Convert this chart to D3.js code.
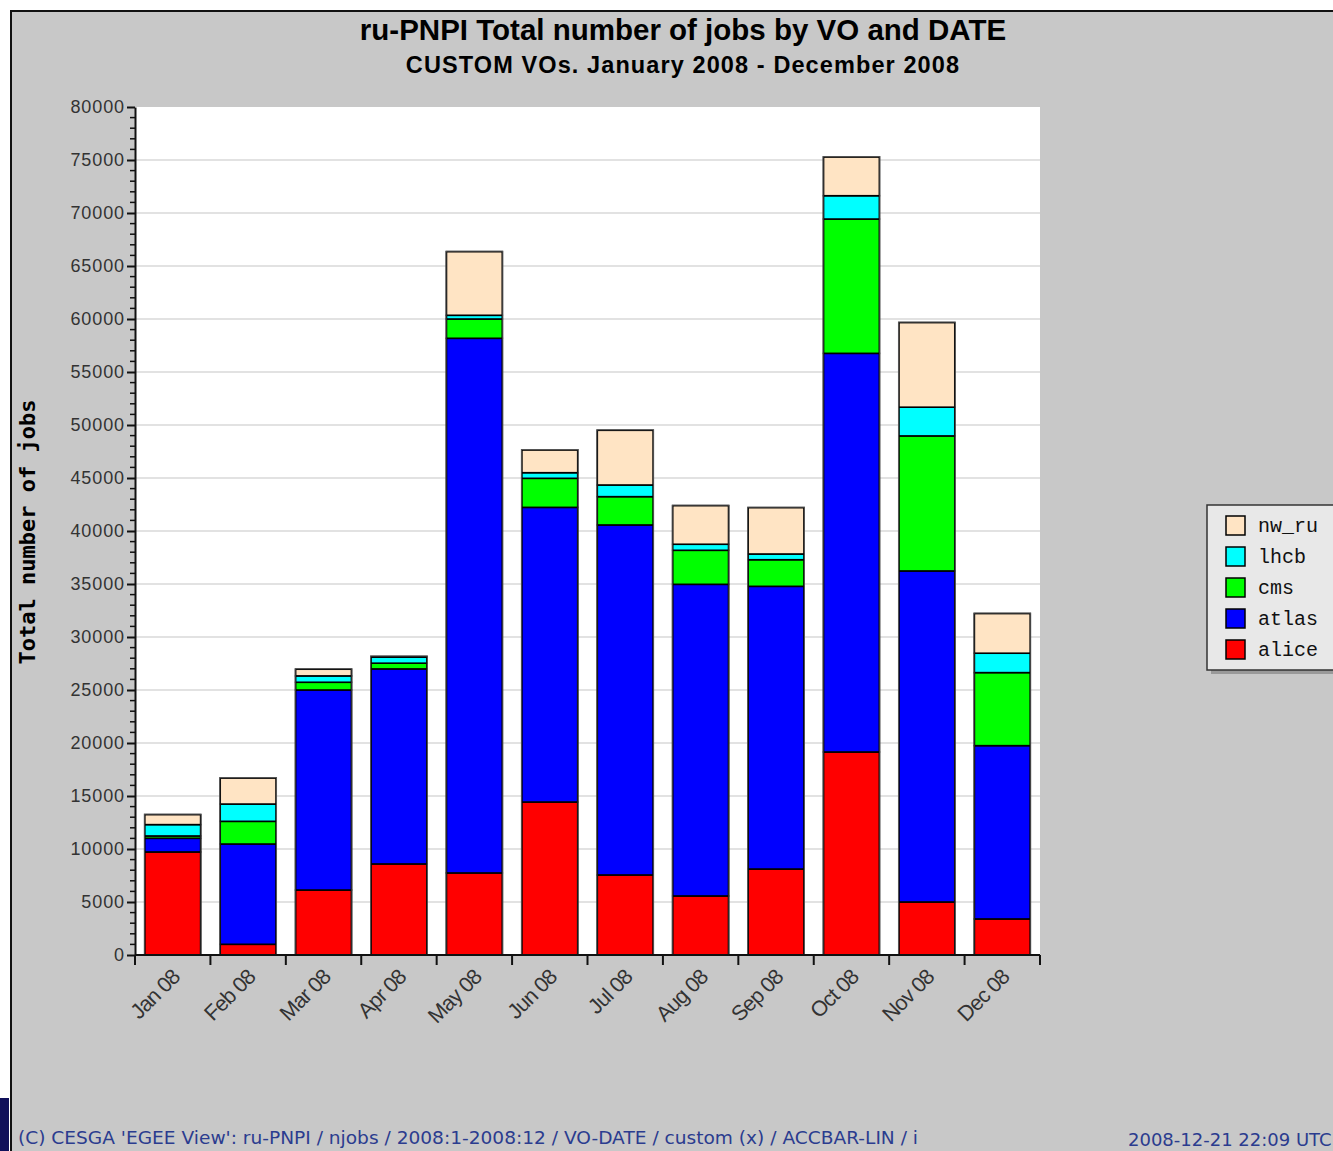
<!DOCTYPE html>
<html>
<head>
<meta charset="utf-8">
<script src="https://cdn.jsdelivr.net/npm/d3@7"></script>
<style>
  body { margin: 0; background: #fff; }
  svg { display: block; }
</style>
</head>
<body>
<script>
// months on the x axis
var months = ["Jan 08", "Feb 08", "Mar 08", "Apr 08", "May 08", "Jun 08",
              "Jul 08", "Aug 08", "Sep 08", "Oct 08", "Nov 08", "Dec 08"];

// job counts per VO
var alice = [9720, 1010, 6130, 8590, 7740, 14430, 7550, 5570, 8110, 19150, 5000, 3400];
var atlas = [1290, 9460, 18870, 18400, 50440, 27800, 33020, 29400, 26670, 37610, 31230, 16350];
var cms   = [220, 2140, 730, 540, 1820, 2740, 2670, 3210, 2510, 12670, 12740, 6890];
var lhcb  = [1070, 1630, 600, 570, 350, 530, 1100, 570, 540, 2200, 2710, 1830];
var nw_ru = [940, 2450, 630, 60, 6000, 2140, 5160, 3640, 4370, 3650, 7980, 3740];

var voNames = ["alice", "atlas", "cms", "lhcb", "nw_ru"];
var voColors = ["#ff0000", "#0000ff", "#00ff00", "#00ffff", "#ffe4c4"];
var yTicks = [0, 5000, 10000, 15000, 20000, 25000, 30000, 35000, 40000,
              45000, 50000, 55000, 60000, 65000, 70000, 75000, 80000];

var width = 1333, height = 1151;

var svg = d3.select("body").append("svg")
    .attr("width", width)
    .attr("height", height);

// grey panel with dark frame
svg.append("rect")
    .attr("x", 11).attr("y", 11)
    .attr("width", width).attr("height", height)
    .attr("fill", "#c8c8c8")
    .attr("stroke", "#111")
    .attr("stroke-width", 2);

// bit of window decoration bottom left
svg.append("rect")
    .attr("x", 0).attr("y", 1098)
    .attr("width", 9).attr("height", 53)
    .attr("fill", "#10105a");

var plot = {left: 135, right: 1040, top: 107, bottom: 955};

var x = d3.scaleBand()
    .domain(months)
    .range([plot.left, plot.right])
    .paddingInner(0.26)
    .paddingOuter(0.13);

var y = d3.scaleLinear()
    .domain([0, 80000])
    .range([plot.bottom, plot.top]);

svg.append("rect")
    .attr("x", plot.left).attr("y", plot.top)
    .attr("width", plot.right - plot.left)
    .attr("height", plot.bottom - plot.top)
    .attr("fill", "#fff");

// grid
svg.append("g")
    .selectAll("line")
    .data(yTicks.filter(function(d) { return d > 0 && d < 80000; }))
    .enter().append("line")
    .attr("x1", plot.left).attr("x2", plot.right)
    .attr("y1", function(d) { return y(d); })
    .attr("y2", function(d) { return y(d); })
    .attr("stroke", "#e2e2e2")
    .attr("stroke-width", 2);

// stacked bars
var table = months.map(function(m, i) {
    return {month: m, alice: alice[i], atlas: atlas[i], cms: cms[i], lhcb: lhcb[i], nw_ru: nw_ru[i]};
});
var series = d3.stack().keys(voNames)(table);

svg.append("g")
    .selectAll("g")
    .data(series)
    .enter().append("g")
    .attr("fill", function(d, i) { return voColors[i]; })
    .selectAll("rect")
    .data(function(d) { return d; })
    .enter().append("rect")
    .attr("x", function(d) { return x(d.data.month); })
    .attr("width", x.bandwidth())
    .attr("y", function(d) { return y(d[1]); })
    .attr("height", function(d) { return y(d[0]) - y(d[1]); })
    .attr("stroke", "#000")
    .attr("stroke-width", 1.6);

// outer outline of each bar
function total(d) { return d.alice + d.atlas + d.cms + d.lhcb + d.nw_ru; }
svg.append("g")
    .selectAll("rect")
    .data(table)
    .enter().append("rect")
    .attr("x", function(d) { return x(d.month) - 0.5; })
    .attr("width", x.bandwidth() + 1)
    .attr("y", function(d) { return y(total(d)) - 0.5; })
    .attr("height", function(d) { return plot.bottom - y(total(d)) + 0.5; })
    .attr("fill", "none")
    .attr("stroke", "#555")
    .attr("stroke-width", 1);

// y axis
var yAxis = svg.append("g")
    .attr("transform", "translate(" + plot.left + ",0)")
    .call(d3.axisLeft(y).tickValues(yTicks).tickSize(8).tickSizeOuter(0).tickFormat(d3.format("d")));
yAxis.select(".domain").attr("stroke", "#111").attr("stroke-width", 2);
yAxis.selectAll(".tick line").attr("stroke", "#111").attr("stroke-width", 2);
yAxis.selectAll("text")
    .attr("font-family", "Liberation Sans, Arial, sans-serif")
    .attr("font-size", 18)
    .attr("letter-spacing", 0.9)
    .attr("fill", "#333")
    .attr("x", -10);

// minor ticks
svg.append("g")
    .selectAll("line")
    .data(d3.range(0, 80001, 1000).filter(function(d) { return d % 5000 !== 0; }))
    .enter().append("line")
    .attr("x1", plot.left - 5).attr("x2", plot.left)
    .attr("y1", function(d) { return y(d); })
    .attr("y2", function(d) { return y(d); })
    .attr("stroke", "#111")
    .attr("stroke-width", 1.5);

// x axis
var step = x.step();
svg.append("line")
    .attr("x1", plot.left).attr("x2", plot.right)
    .attr("y1", plot.bottom).attr("y2", plot.bottom)
    .attr("stroke", "#111").attr("stroke-width", 2);

svg.append("g")
    .selectAll("line")
    .data(months.concat(["end"]))
    .enter().append("line")
    .attr("x1", function(d, i) { return plot.left + i * step; })
    .attr("x2", function(d, i) { return plot.left + i * step; })
    .attr("y1", plot.bottom).attr("y2", plot.bottom + 10)
    .attr("stroke", "#111").attr("stroke-width", 2);

svg.append("g")
    .selectAll("text")
    .data(months)
    .enter().append("text")
    .attr("transform", function(d) {
        return "translate(" + (x(d) + x.bandwidth() / 2 - 3) + "," + (plot.bottom + 12) + ") rotate(-45)";
    })
    .attr("text-anchor", "end")
    .attr("dy", "0.75em")
    .attr("font-family", "Liberation Sans, Arial, sans-serif")
    .attr("font-size", 21.5)
    .attr("letter-spacing", -0.9)
    .attr("fill", "#333")
    .text(function(d) { return d; });

// y label
svg.append("text")
    .attr("transform", "translate(35,532) rotate(-90)")
    .attr("text-anchor", "middle")
    .attr("font-family", "DejaVu Sans Mono, Liberation Mono, monospace")
    .attr("font-weight", "bold")
    .attr("font-size", 22)
    .attr("fill", "#000")
    .text("Total number of jobs");

// titles
svg.append("text")
    .attr("x", 683).attr("y", 40)
    .attr("text-anchor", "middle")
    .attr("font-family", "Liberation Sans, Arial, sans-serif")
    .attr("font-weight", "bold")
    .attr("font-size", 29.5)
    .attr("fill", "#000")
    .text("ru-PNPI Total number of jobs by VO and DATE");

svg.append("text")
    .attr("x", 683).attr("y", 73)
    .attr("text-anchor", "middle")
    .attr("font-family", "Liberation Sans, Arial, sans-serif")
    .attr("font-weight", "bold")
    .attr("font-size", 23.5)
    .attr("letter-spacing", 1.1)
    .attr("fill", "#000")
    .text("CUSTOM VOs. January 2008 - December 2008");

// legend
svg.append("rect")
    .attr("x", 1211).attr("y", 509)
    .attr("width", 140).attr("height", 165)
    .attr("fill", "#999");
svg.append("rect")
    .attr("x", 1207).attr("y", 505)
    .attr("width", 140).attr("height", 165)
    .attr("fill", "#e8e8e8")
    .attr("stroke", "#333")
    .attr("stroke-width", 1.5);

var legend = svg.append("g")
    .selectAll("g")
    .data(voNames.slice().reverse())
    .enter().append("g")
    .attr("transform", function(d, i) { return "translate(1226," + (525 + i * 31) + ")"; });

legend.append("rect")
    .attr("x", 0).attr("y", -9)
    .attr("width", 19).attr("height", 19)
    .attr("fill", function(d) { return voColors[voNames.indexOf(d)]; })
    .attr("stroke", "#000")
    .attr("stroke-width", 1.5);

legend.append("text")
    .attr("x", 32).attr("y", 7)
    .attr("font-family", "Liberation Mono, DejaVu Sans Mono, monospace")
    .attr("font-size", 20)
    .attr("fill", "#111")
    .text(function(d) { return d; });

// footer
svg.append("text")
    .attr("x", 18).attr("y", 1144)
    .attr("font-family", "DejaVu Sans, sans-serif")
    .attr("font-size", 17)
    .attr("fill", "#2b3c8f")
    .attr("textLength", 900)
    .attr("lengthAdjust", "spacingAndGlyphs")
    .text("(C) CESGA 'EGEE View': ru-PNPI / njobs / 2008:1-2008:12 / VO-DATE / custom (x) / ACCBAR-LIN / i");

svg.append("text")
    .attr("x", 1128).attr("y", 1146)
    .attr("font-family", "DejaVu Sans, sans-serif")
    .attr("font-size", 18)
    .attr("fill", "#2b3c8f")
    .text("2008-12-21 22:09 UTC");
</script>
</body>
</html>
